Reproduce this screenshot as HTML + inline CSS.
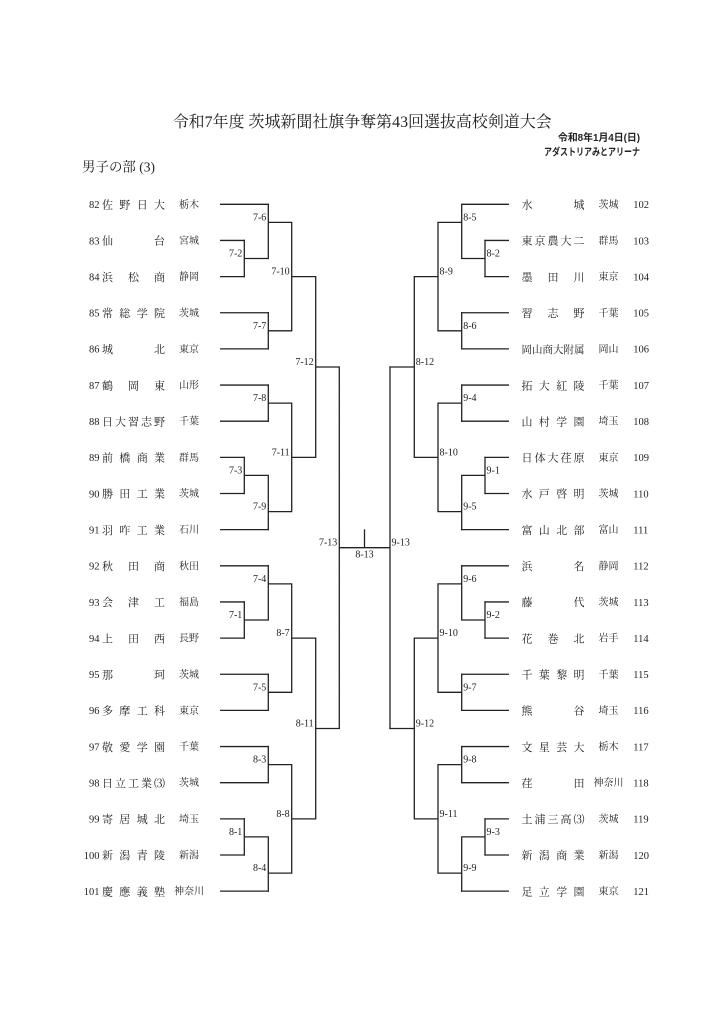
<!DOCTYPE html>
<html lang="ja">
<head>
<meta charset="utf-8">
<style>
html,body{margin:0;padding:0;background:#fff;}
svg{display:block;}
.t{font-family:"Liberation Serif","Noto Serif CJK JP","Noto Serif CJK SC",serif;fill:#1e1e1e;}
.g{font-family:"Liberation Sans","Noto Sans CJK JP",sans-serif;fill:#222;}
.nu{font-size:10.5px;}
.nm{font-size:11px;}
.pf{font-size:10px;}
.lb{font-family:"Liberation Serif",serif;font-size:10px;fill:#222;}
</style>
</head>
<body>
<svg width="724" height="1024" viewBox="0 0 724 1024" xmlns="http://www.w3.org/2000/svg">
<rect width="724" height="1024" fill="#fff"/>

<!-- header -->
<text class="t" x="362.2" y="127" text-anchor="middle" font-size="16" textLength="379" lengthAdjust="spacingAndGlyphs">令和7年度 茨城新聞社旗争奪第43回選抜高校剣道大会</text>
<text class="g" x="558" y="141" font-size="10" font-weight="bold" textLength="82" lengthAdjust="spacingAndGlyphs">令和8年1月4日(日)</text>
<text class="g" x="544" y="155.5" font-size="10" font-weight="bold" textLength="96" lengthAdjust="spacingAndGlyphs">アダストリアみとアリーナ</text>
<text class="t" x="82" y="171.5" font-size="13.5" textLength="73" lengthAdjust="spacingAndGlyphs">男子の部 (3)</text>

<!-- lines -->
<g fill="none" stroke="#222" stroke-width="1.3" stroke-linecap="square">
<path d="M220.7 204.3H268.3M220.7 240.45H244.3M220.7 276.6H244.3M220.7 312.75H268.3M220.7 348.9H268.3M220.7 385.05H268.3M220.7 421.2H268.3M220.7 457.35H244.3M220.7 493.5H244.3M220.7 529.65H268.3M220.7 565.8H268.3M220.7 601.95H244.3M220.7 638.1H244.3M220.7 674.25H268.3M220.7 710.4H268.3M220.7 746.55H268.3M220.7 782.7H268.3M220.7 818.85H244.3M220.7 855H244.3M220.7 891.15H268.3"/>
<path d="M244.3 240.45V276.6M244.3 258.5H268.3
M268.3 204.3V258.5M268.3 222.4H291.7
M268.3 312.75V348.9M268.3 330.8H291.7
M291.7 222.4V330.8M291.7 276.6H315.7
M268.3 385.05V421.2M268.3 403.1H291.7
M244.3 457.35V493.5M244.3 475.4H268.3
M268.3 475.4V529.65M268.3 511.6H291.7
M291.7 403.1V511.6M291.7 457.35H315.7
M315.7 276.6V457.35M315.7 367H339.3
M244.3 601.95V638.1M244.3 620H268.3
M268.3 565.8V620M268.3 583.9H291.7
M268.3 674.25V710.4M268.3 692.3H291.7
M291.7 583.9V692.3M291.7 638.1H315.7
M268.3 746.55V782.7M268.3 764.6H291.7
M244.3 818.85V855M244.3 836.9H268.3
M268.3 836.9V891.15M268.3 873.1H291.7
M291.7 764.6V873.1M291.7 818.85H315.7
M315.7 638.1V818.85M315.7 728.5H339.3
M339.3 367V728.5M339.3 547.7H390
M390 367V728.5
M364.5 530V547.7"/>
<path d="M461.7 204.3H508.3M485 240.45H508.3M485 276.6H508.3M461.7 312.75H508.3M461.7 348.9H508.3M461.7 385.05H508.3M461.7 421.2H508.3M485 457.35H508.3M485 493.5H508.3M461.7 529.65H508.3M461.7 565.8H508.3M485 601.95H508.3M485 638.1H508.3M461.7 674.25H508.3M461.7 710.4H508.3M461.7 746.55H508.3M461.7 782.7H508.3M485 818.85H508.3M485 855H508.3M461.7 891.15H508.3"/>
<path d="M485 240.45V276.6M485 258.5H461.7
M461.7 204.3V258.5M461.7 222.4H438
M461.7 312.75V348.9M461.7 330.8H438
M438 222.4V330.8M438 276.6H414.3
M461.7 385.05V421.2M461.7 403.1H438
M485 457.35V493.5M485 475.4H461.7
M461.7 475.4V529.65M461.7 511.6H438
M438 403.1V511.6M438 457.35H414.3
M414.3 276.6V457.35M414.3 367H390
M485 601.95V638.1M485 620H461.7
M461.7 565.8V620M461.7 583.9H438
M461.7 674.25V710.4M461.7 692.3H438
M438 583.9V692.3M438 638.1H414.3
M461.7 746.55V782.7M461.7 764.6H438
M485 818.85V855M485 836.9H461.7
M461.7 836.9V891.15M461.7 873.1H438
M438 764.6V873.1M438 818.85H414.3
M414.3 638.1V818.85M414.3 728.5H390"/>
</g>

<!-- match labels left -->
<g class="lb" text-anchor="end">
<text x="266.3" y="220.4">7-6</text>
<text x="242.3" y="256.5">7-2</text>
<text x="289.7" y="274.6">7-10</text>
<text x="266.3" y="328.8">7-7</text>
<text x="313.7" y="365">7-12</text>
<text x="266.3" y="401.1">7-8</text>
<text x="289.7" y="455.4">7-11</text>
<text x="242.3" y="473.4">7-3</text>
<text x="266.3" y="509.6">7-9</text>
<text x="337.3" y="545.7">7-13</text>
<text x="266.3" y="581.9">7-4</text>
<text x="242.3" y="618">7-1</text>
<text x="289.7" y="636.1">8-7</text>
<text x="266.3" y="690.3">7-5</text>
<text x="313.7" y="726.5">8-11</text>
<text x="266.3" y="762.6">8-3</text>
<text x="289.7" y="816.9">8-8</text>
<text x="242.3" y="834.9">8-1</text>
<text x="266.3" y="871.1">8-4</text>
</g>
<!-- match labels right -->
<g class="lb">
<text x="463.2" y="220.4">8-5</text>
<text x="486.5" y="256.5">8-2</text>
<text x="439.5" y="274.6">8-9</text>
<text x="463.2" y="328.8">8-6</text>
<text x="415.8" y="365">8-12</text>
<text x="463.2" y="401.1">9-4</text>
<text x="439.5" y="455.4">8-10</text>
<text x="486.5" y="473.4">9-1</text>
<text x="463.2" y="509.6">9-5</text>
<text x="391.5" y="545.7">9-13</text>
<text x="463.2" y="581.9">9-6</text>
<text x="486.5" y="618">9-2</text>
<text x="439.5" y="636.1">9-10</text>
<text x="463.2" y="690.3">9-7</text>
<text x="415.8" y="726.5">9-12</text>
<text x="463.2" y="762.6">9-8</text>
<text x="439.5" y="816.9">9-11</text>
<text x="486.5" y="834.9">9-3</text>
<text x="463.2" y="871.1">9-9</text>
<text x="364.5" y="557.5" text-anchor="middle">8-13</text>
</g>

<!-- teams -->
<g class="t">
<g transform="translate(0,204.3)">
<text class="nu" x="99.5" y="3.8" text-anchor="end">82</text>
<text class="nm" x="102 119.3 136.7 154" y="4.2">佐野日大</text>
<text class="pf" x="189" y="3.5" text-anchor="middle">栃木</text>
<text class="nm" x="521.5 573.5" y="4.2">水城</text>
<text class="pf" x="608.5" y="3.5" text-anchor="middle">茨城</text>
<text class="nu" x="633.3" y="3.8">102</text>
</g>
<g transform="translate(0,240.45)">
<text class="nu" x="99.5" y="3.8" text-anchor="end">83</text>
<text class="nm" x="102 154" y="4.2">仙台</text>
<text class="pf" x="189" y="3.5" text-anchor="middle">宮城</text>
<text class="nm" x="521.5 534.5 547.5 560.5 573.5" y="4.2">東京農大二</text>
<text class="pf" x="608.5" y="3.5" text-anchor="middle">群馬</text>
<text class="nu" x="633.3" y="3.8">103</text>
</g>
<g transform="translate(0,276.6)">
<text class="nu" x="99.5" y="3.8" text-anchor="end">84</text>
<text class="nm" x="102 128 154" y="4.2">浜松商</text>
<text class="pf" x="189" y="3.5" text-anchor="middle">静岡</text>
<text class="nm" x="521.5 547.5 573.5" y="4.2">墨田川</text>
<text class="pf" x="608.5" y="3.5" text-anchor="middle">東京</text>
<text class="nu" x="633.3" y="3.8">104</text>
</g>
<g transform="translate(0,312.75)">
<text class="nu" x="99.5" y="3.8" text-anchor="end">85</text>
<text class="nm" x="102 119.3 136.7 154" y="4.2">常総学院</text>
<text class="pf" x="189" y="3.5" text-anchor="middle">茨城</text>
<text class="nm" x="521.5 547.5 573.5" y="4.2">習志野</text>
<text class="pf" x="608.5" y="3.5" text-anchor="middle">千葉</text>
<text class="nu" x="633.3" y="3.8">105</text>
</g>
<g transform="translate(0,348.9)">
<text class="nu" x="99.5" y="3.8" text-anchor="end">86</text>
<text class="nm" x="102 154" y="4.2">城北</text>
<text class="pf" x="189" y="3.5" text-anchor="middle">東京</text>
<text class="nm" x="521.5 532 542.5 553 563.5 574" y="4.2" style="font-size:10.5px">岡山商大附属</text>
<text class="pf" x="608.5" y="3.5" text-anchor="middle">岡山</text>
<text class="nu" x="633.3" y="3.8">106</text>
</g>
<g transform="translate(0,385.05)">
<text class="nu" x="99.5" y="3.8" text-anchor="end">87</text>
<text class="nm" x="102 128 154" y="4.2">鶴岡東</text>
<text class="pf" x="189" y="3.5" text-anchor="middle">山形</text>
<text class="nm" x="521.5 538.8 556.2 573.5" y="4.2">拓大紅陵</text>
<text class="pf" x="608.5" y="3.5" text-anchor="middle">千葉</text>
<text class="nu" x="633.3" y="3.8">107</text>
</g>
<g transform="translate(0,421.2)">
<text class="nu" x="99.5" y="3.8" text-anchor="end">88</text>
<text class="nm" x="102 115 128 141 154" y="4.2">日大習志野</text>
<text class="pf" x="189" y="3.5" text-anchor="middle">千葉</text>
<text class="nm" x="521.5 538.8 556.2 573.5" y="4.2">山村学園</text>
<text class="pf" x="608.5" y="3.5" text-anchor="middle">埼玉</text>
<text class="nu" x="633.3" y="3.8">108</text>
</g>
<g transform="translate(0,457.35)">
<text class="nu" x="99.5" y="3.8" text-anchor="end">89</text>
<text class="nm" x="102 119.3 136.7 154" y="4.2">前橋商業</text>
<text class="pf" x="189" y="3.5" text-anchor="middle">群馬</text>
<text class="nm" x="521.5 534.5 547.5 560.5 573.5" y="4.2">日体大荏原</text>
<text class="pf" x="608.5" y="3.5" text-anchor="middle">東京</text>
<text class="nu" x="633.3" y="3.8">109</text>
</g>
<g transform="translate(0,493.5)">
<text class="nu" x="99.5" y="3.8" text-anchor="end">90</text>
<text class="nm" x="102 119.3 136.7 154" y="4.2">勝田工業</text>
<text class="pf" x="189" y="3.5" text-anchor="middle">茨城</text>
<text class="nm" x="521.5 538.8 556.2 573.5" y="4.2">水戸啓明</text>
<text class="pf" x="608.5" y="3.5" text-anchor="middle">茨城</text>
<text class="nu" x="633.3" y="3.8">110</text>
</g>
<g transform="translate(0,529.65)">
<text class="nu" x="99.5" y="3.8" text-anchor="end">91</text>
<text class="nm" x="102 119.3 136.7 154" y="4.2">羽咋工業</text>
<text class="pf" x="189" y="3.5" text-anchor="middle">石川</text>
<text class="nm" x="521.5 538.8 556.2 573.5" y="4.2">富山北部</text>
<text class="pf" x="608.5" y="3.5" text-anchor="middle">富山</text>
<text class="nu" x="633.3" y="3.8">111</text>
</g>
<g transform="translate(0,565.8)">
<text class="nu" x="99.5" y="3.8" text-anchor="end">92</text>
<text class="nm" x="102 128 154" y="4.2">秋田商</text>
<text class="pf" x="189" y="3.5" text-anchor="middle">秋田</text>
<text class="nm" x="521.5 573.5" y="4.2">浜名</text>
<text class="pf" x="608.5" y="3.5" text-anchor="middle">静岡</text>
<text class="nu" x="633.3" y="3.8">112</text>
</g>
<g transform="translate(0,601.95)">
<text class="nu" x="99.5" y="3.8" text-anchor="end">93</text>
<text class="nm" x="102 128 154" y="4.2">会津工</text>
<text class="pf" x="189" y="3.5" text-anchor="middle">福島</text>
<text class="nm" x="521.5 573.5" y="4.2">藤代</text>
<text class="pf" x="608.5" y="3.5" text-anchor="middle">茨城</text>
<text class="nu" x="633.3" y="3.8">113</text>
</g>
<g transform="translate(0,638.1)">
<text class="nu" x="99.5" y="3.8" text-anchor="end">94</text>
<text class="nm" x="102 128 154" y="4.2">上田西</text>
<text class="pf" x="189" y="3.5" text-anchor="middle">長野</text>
<text class="nm" x="521.5 547.5 573.5" y="4.2">花巻北</text>
<text class="pf" x="608.5" y="3.5" text-anchor="middle">岩手</text>
<text class="nu" x="633.3" y="3.8">114</text>
</g>
<g transform="translate(0,674.25)">
<text class="nu" x="99.5" y="3.8" text-anchor="end">95</text>
<text class="nm" x="102 154" y="4.2">那珂</text>
<text class="pf" x="189" y="3.5" text-anchor="middle">茨城</text>
<text class="nm" x="521.5 538.8 556.2 573.5" y="4.2">千葉黎明</text>
<text class="pf" x="608.5" y="3.5" text-anchor="middle">千葉</text>
<text class="nu" x="633.3" y="3.8">115</text>
</g>
<g transform="translate(0,710.4)">
<text class="nu" x="99.5" y="3.8" text-anchor="end">96</text>
<text class="nm" x="102 119.3 136.7 154" y="4.2">多摩工科</text>
<text class="pf" x="189" y="3.5" text-anchor="middle">東京</text>
<text class="nm" x="521.5 573.5" y="4.2">熊谷</text>
<text class="pf" x="608.5" y="3.5" text-anchor="middle">埼玉</text>
<text class="nu" x="633.3" y="3.8">116</text>
</g>
<g transform="translate(0,746.55)">
<text class="nu" x="99.5" y="3.8" text-anchor="end">97</text>
<text class="nm" x="102 119.3 136.7 154" y="4.2">敬愛学園</text>
<text class="pf" x="189" y="3.5" text-anchor="middle">千葉</text>
<text class="nm" x="521.5 538.8 556.2 573.5" y="4.2">文星芸大</text>
<text class="pf" x="608.5" y="3.5" text-anchor="middle">栃木</text>
<text class="nu" x="633.3" y="3.8">117</text>
</g>
<g transform="translate(0,782.7)">
<text class="nu" x="99.5" y="3.8" text-anchor="end">98</text>
<text class="nm" x="102 115 128 141 154" y="4.2">日立工業⑶</text>
<text class="pf" x="189" y="3.5" text-anchor="middle">茨城</text>
<text class="nm" x="521.5 573.5" y="4.2">荏田</text>
<text class="pf" x="608.5" y="3.5" text-anchor="middle">神奈川</text>
<text class="nu" x="633.3" y="3.8">118</text>
</g>
<g transform="translate(0,818.85)">
<text class="nu" x="99.5" y="3.8" text-anchor="end">99</text>
<text class="nm" x="102 119.3 136.7 154" y="4.2">寄居城北</text>
<text class="pf" x="189" y="3.5" text-anchor="middle">埼玉</text>
<text class="nm" x="521.5 534.5 547.5 560.5 573.5" y="4.2">土浦三高⑶</text>
<text class="pf" x="608.5" y="3.5" text-anchor="middle">茨城</text>
<text class="nu" x="633.3" y="3.8">119</text>
</g>
<g transform="translate(0,855)">
<text class="nu" x="99.5" y="3.8" text-anchor="end">100</text>
<text class="nm" x="102 119.3 136.7 154" y="4.2">新潟青陵</text>
<text class="pf" x="189" y="3.5" text-anchor="middle">新潟</text>
<text class="nm" x="521.5 538.8 556.2 573.5" y="4.2">新潟商業</text>
<text class="pf" x="608.5" y="3.5" text-anchor="middle">新潟</text>
<text class="nu" x="633.3" y="3.8">120</text>
</g>
<g transform="translate(0,891.15)">
<text class="nu" x="99.5" y="3.8" text-anchor="end">101</text>
<text class="nm" x="102 119.3 136.7 154" y="4.2">慶應義塾</text>
<text class="pf" x="189" y="3.5" text-anchor="middle">神奈川</text>
<text class="nm" x="521.5 538.8 556.2 573.5" y="4.2">足立学園</text>
<text class="pf" x="608.5" y="3.5" text-anchor="middle">東京</text>
<text class="nu" x="633.3" y="3.8">121</text>
</g>
</g>
</svg>
</body>
</html>
